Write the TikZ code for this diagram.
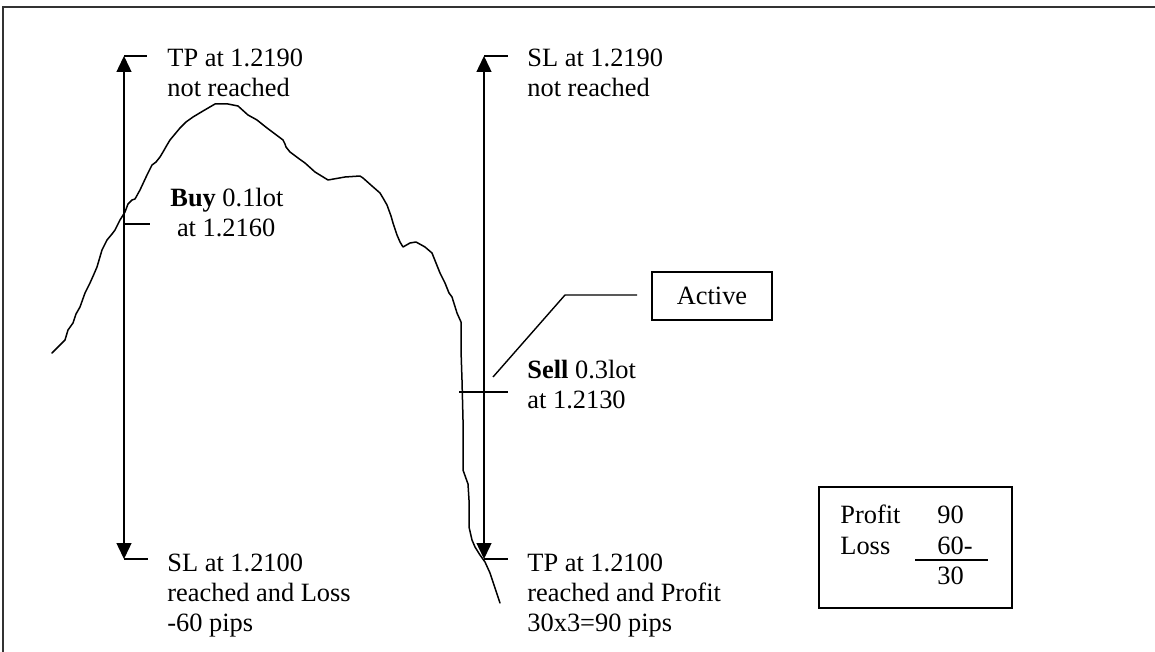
\documentclass[tikz,border=0pt]{standalone}
\usepackage{fontspec}
\setmainfont{Liberation Serif}
\usetikzlibrary{arrows.meta}
\begin{document}
\begin{tikzpicture}[x=0.5pt,y=-0.5pt,
  lbl/.style={anchor=base west,inner sep=0pt,align=left,font=\fontsize{13.2}{15}\selectfont},
  txt/.style={anchor=base west,inner sep=0pt,font=\fontsize{13.2}{15}\selectfont},
  level/.style={line width=0.7pt,{Triangle[width=7.5pt,length=8pt]}-{Triangle[width=7.5pt,length=8pt]}},
  tick/.style={line width=0.7pt},
  price/.style={line width=0.75pt,line join=round,line cap=round},
  frame/.style={line width=0.6pt,draw=black!80},
  boxed/.style={draw,line width=0.7pt,inner sep=0pt}]
\useasboundingbox (0,0) rectangle (1155,652);
% frame
\draw[frame] (1155,7) -- (3,7) -- (3,652);
% price curve
\draw[price] (52,353) -- (60,345) -- (65,340) -- (68,330) -- (73,323) -- (76,314) -- (80,307) -- (85,293) -- (90,283)
  -- (94,274) -- (97,267) -- (102,250) -- (107,240) -- (112,234) -- (115,230) -- (120,220) -- (125,212)
  -- (128,204) -- (132,200) -- (135,199) -- (140,190) -- (147,175) -- (152,165) -- (156,162) -- (160,157)
  -- (163,152) -- (167,145) -- (170,140) -- (175,134) -- (180,128) -- (186,122) -- (193,117) -- (203,111)
  -- (215,104) -- (228,104) -- (238,106) -- (248,115) -- (257,120) -- (267,128) -- (275,134) -- (283,140)
  -- (285,144) -- (286,147) -- (290,152) -- (298,158) -- (305,163) -- (315,172) -- (328,180) -- (345,177)
  -- (360,176) -- (363,178) -- (372,186) -- (380,193) -- (383,198) -- (387,205) -- (391,216) -- (393,223)
  -- (397,235) -- (400,242) -- (403,247) -- (410,243) -- (416,242) -- (425,247) -- (432,253) -- (436,263)
  -- (440,273) -- (445,283) -- (449,293) -- (452,297) -- (457,313) -- (461,322) -- (461,350) -- (462,380)
  -- (463,420) -- (463,470) -- (468,484) -- (469,500) -- (469,527) -- (472,540) -- (475,547) -- (480,555)
  -- (485,562) -- (490,573) -- (495,588) -- (500,603);
% left levels
\coordinate (ltop) at (124,56);
\coordinate (lbot) at (124,559);
\coordinate (lbuy) at (124,224);
\coordinate (ltopE) at (147,56);
\coordinate (lbotE) at (148,559);
\coordinate (lbuyE) at (150,224);
\draw[level] (lbot) -- (ltop);
\draw[tick] (ltop) -- (ltopE);
\draw[tick] (lbuy) -- (lbuyE);
\draw[tick] (lbot) -- (lbotE);
% right levels
\coordinate (rtop) at (484,56);
\coordinate (rbot) at (484,559);
\coordinate (rsellW) at (459,392);
\coordinate (rsellE) at (508,392);
\coordinate (rtopE) at (508,56);
\coordinate (rbotE) at (508,559);
\draw[level] (rbot) -- (rtop);
\draw[tick] (rtop) -- (rtopE);
\draw[tick] (rsellW) -- (rsellE);
\draw[tick] (rbot) -- (rbotE);
% labels (placed by the baseline of their last line)
\node[lbl] (tp1) at (167,97) {TP at 1.2190\\not reached};
\node[lbl] (buy) at (170,236) {\textbf{Buy} 0.1lot\\\hspace*{0.25em}at 1.2160};
\node[lbl] (sl1) at (167,631) {SL at 1.2100\\reached and Loss\\-60 pips};
\node[lbl] (sl2) at (527,97) {SL at 1.2190\\not reached};
\node[lbl] (sell) at (527,408) {\textbf{Sell} 0.3lot\\at 1.2130};
\node[lbl] (tp2) at (527,631) {TP at 1.2100\\reached and Profit\\30x3=90 pips};
% active
\node[boxed,minimum width=60pt,minimum height=24pt,font=\fontsize{13.2}{15}\selectfont] (active) at (712,296) {Active};
\coordinate (a1) at (637,295);
\coordinate (a2) at (565,295);
\coordinate (a3) at (493,377);
\draw[tick] (a1) -- (a2) -- (a3);
% summary box
\node[boxed,minimum width=96.5pt,minimum height=60.5pt] (sum) at (915.5,547.5) {};
\node[txt] (pr) at (840,523) {Profit};
\node[txt] (lo) at (840,554) {Loss};
\node[txt] (n90) at (937,523) {90};
\node[txt] (n60) at (937,554) {60-};
\node[txt] (n30) at (937,584) {30};
\coordinate (s1) at (915,560);
\coordinate (s2) at (988,560);
\draw[line width=0.9pt] (s1) -- (s2);
\end{tikzpicture}
\end{document}
